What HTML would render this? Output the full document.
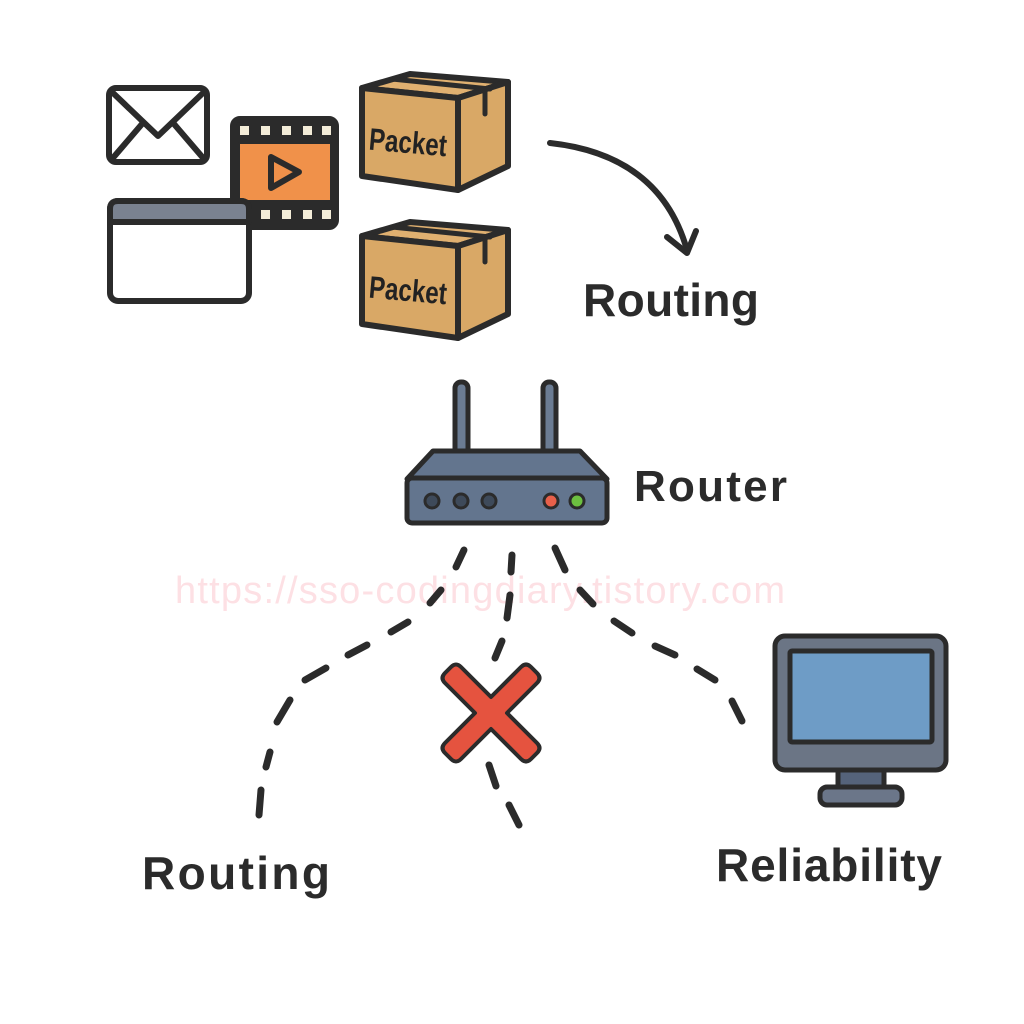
<!DOCTYPE html>
<html><head><meta charset="utf-8"><style>
html,body{margin:0;padding:0;background:#fff;}
svg{display:block}
text{font-family:"Liberation Sans",sans-serif;font-weight:bold;fill:#2b2b2b}
</style></head><body>
<svg width="1024" height="1024" viewBox="0 0 1024 1024" xmlns="http://www.w3.org/2000/svg">
<rect width="1024" height="1024" fill="#fff"/>
<g stroke="#2b2b2b" stroke-width="6" stroke-linejoin="round" stroke-linecap="round">
<rect x="109" y="88" width="98" height="74" rx="7" fill="#fff"/>
<polyline points="112,92 158,136 204,92" fill="none"/>
<line x1="112" y1="159" x2="142" y2="124"/>
<line x1="204" y1="159" x2="174" y2="124"/>
<rect x="233" y="119" width="103" height="108" rx="7" fill="#2b2b2b"/>
<rect x="239" y="143" width="92" height="58" fill="#f0914a" stroke-width="2"/>
<path d="M271,157 L271,188 L299,172 Z" fill="#f0914a" stroke-width="6"/>
</g>
<g fill="#f3ecd8">
<rect x="240" y="126" width="9" height="9"/><rect x="261" y="126" width="9" height="9"/><rect x="282" y="126" width="9" height="9"/><rect x="303" y="126" width="9" height="9"/><rect x="322" y="126" width="9" height="9"/>
<rect x="261" y="210" width="9" height="9"/><rect x="282" y="210" width="9" height="9"/><rect x="303" y="210" width="9" height="9"/><rect x="322" y="210" width="9" height="9"/>
</g>
<g stroke="#2b2b2b" stroke-width="6" stroke-linejoin="round" stroke-linecap="round">
<rect x="110" y="201" width="139" height="100" rx="8" fill="#fff"/>
<path d="M110,222 L110,209 Q110,201 118,201 L241,201 Q249,201 249,209 L249,222 Z" fill="#7a8290"/>
<g id="box">
<path d="M362,88 L410,74 L508,82 L458,98 Z" fill="#e0b070"/>
<path d="M362,88 L458,98 L458,190 L362,176 Z" fill="#d9a866"/>
<path d="M458,98 L508,82 L508,166 L458,190 Z" fill="#d9a866"/>
<path d="M392,79 L490,89 M485,91 L485,114" fill="none" stroke-width="5"/>
</g>
<use href="#box" transform="translate(0,148)"/>
</g>
<text x="369" y="153" font-size="31" textLength="78" lengthAdjust="spacingAndGlyphs" transform="rotate(5 408 142)" style="fill:#222">Packet</text>
<text x="369" y="301" font-size="31" textLength="78" lengthAdjust="spacingAndGlyphs" transform="rotate(5 408 290)" style="fill:#222">Packet</text>
<g stroke="#2b2b2b" stroke-width="6" fill="none" stroke-linecap="round" stroke-linejoin="round">
<path d="M550,143 Q660,155 687,250"/>
<polyline points="667,237 687,253 696,231"/>
</g>
<text x="583" y="316" font-size="46" textLength="176">Routing</text>
<g stroke="#2b2b2b" stroke-width="5" stroke-linejoin="round">
<rect x="455" y="382" width="13" height="75" rx="6" fill="#6b7c93"/>
<rect x="543" y="382" width="13" height="75" rx="6" fill="#6b7c93"/>
<path d="M433,451 L580,451 L607,479 L407,479 Z" fill="#63758e"/>
<rect x="407" y="478" width="200" height="45" rx="5" fill="#63758e"/>
<circle cx="432" cy="501" r="7" fill="#3e4a5a" stroke-width="3"/>
<circle cx="461" cy="501" r="7" fill="#3e4a5a" stroke-width="3"/>
<circle cx="489" cy="501" r="7" fill="#3e4a5a" stroke-width="3"/>
<circle cx="551" cy="501" r="7" fill="#e8604a" stroke-width="3"/>
<circle cx="577" cy="501" r="7" fill="#6cc040" stroke-width="3"/>
</g>
<text x="634" y="501" font-size="44" textLength="153">Router</text>
<text x="175" y="603" font-size="38" textLength="610" style="fill:#fde0e4;font-weight:normal">https://sso-codingdiary.tistory.com</text>
<g stroke="#2b2b2b" stroke-width="7" stroke-linecap="round">
<line x1="464" y1="550" x2="456" y2="567"/><line x1="441" y1="590" x2="430" y2="603"/><line x1="408" y1="622" x2="391" y2="632"/><line x1="367" y1="645" x2="348" y2="655"/><line x1="326" y1="668" x2="305" y2="680"/><line x1="290" y1="700" x2="277" y2="722"/><line x1="270" y1="752" x2="266" y2="767"/><line x1="261" y1="790" x2="259" y2="815"/>
<line x1="512" y1="555" x2="511" y2="572"/><line x1="510" y1="595" x2="507" y2="618"/><line x1="502" y1="641" x2="495" y2="658"/><line x1="489" y1="765" x2="496" y2="786"/><line x1="509" y1="805" x2="519" y2="825"/>
<line x1="555" y1="548" x2="565" y2="570"/><line x1="580" y1="590" x2="593" y2="604"/><line x1="614" y1="621" x2="632" y2="633"/><line x1="655" y1="646" x2="675" y2="655"/><line x1="697" y1="669" x2="715" y2="680"/><line x1="732" y1="701" x2="742" y2="721"/>
</g>
<path d="M461,667 L491,697 L521,667 Q526,662 531,667 L537,673 Q542,678 537,683 L507,713 L537,743 Q542,748 537,753 L531,759 Q526,764 521,759 L491,729 L461,759 Q456,764 451,759 L445,753 Q440,748 445,743 L475,713 L445,683 Q440,678 445,673 L451,667 Q456,662 461,667 Z" fill="#e5533f" stroke="#2b2b2b" stroke-width="4" stroke-linejoin="round"/>
<g stroke="#2b2b2b" stroke-width="5" stroke-linejoin="round">
<rect x="838" y="766" width="46" height="22" fill="#55637a"/>
<rect x="820" y="787" width="82" height="18" rx="7" fill="#6b7689"/>
<rect x="775" y="636" width="171" height="134" rx="10" fill="#6b7585"/>
<rect x="790" y="651" width="142" height="91" rx="2" fill="#6e9cc6" stroke-width="5"/>
</g>
<text x="142" y="889" font-size="46" textLength="188">Routing</text>
<text x="716" y="881" font-size="46" textLength="226">Reliability</text>
</svg>
</body></html>
